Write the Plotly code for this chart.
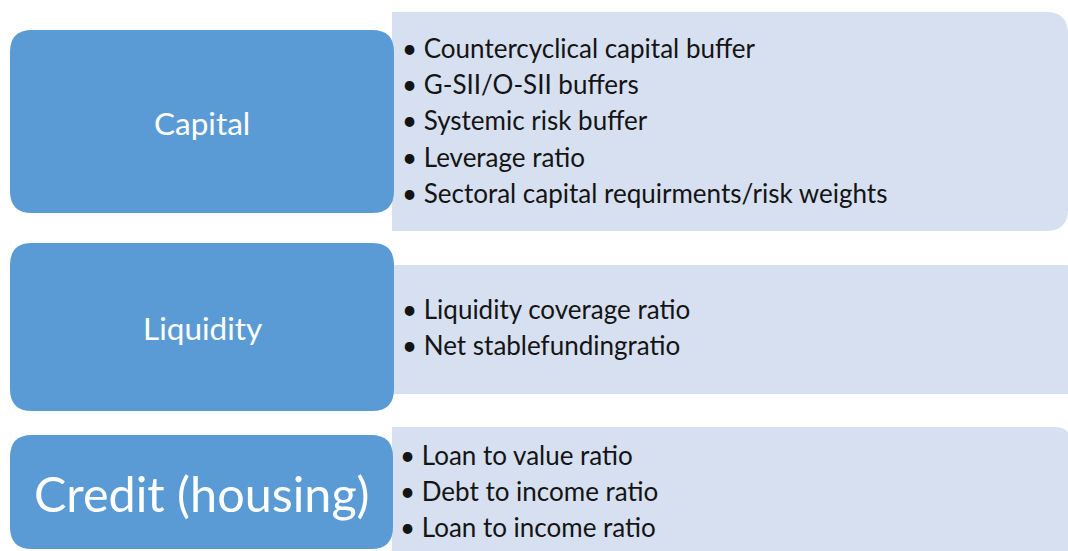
import plotly.graph_objects as go

# ---- content ----
categories = ["Capital", "Liquidity", "Credit (housing)"]
capital_items = [
    "Countercyclical capital buffer",
    "G-SII/O-SII buffers",
    "Systemic risk buffer",
    "Leverage ratio",
    "Sectoral capital requirments/risk weights",
]
liquidity_items = [
    "Liquidity coverage ratio",
    "Net stablefundingratio",
]
credit_items = [
    "Loan to value ratio",
    "Debt to income ratio",
    "Loan to income ratio",
]
items = [capital_items, liquidity_items, credit_items]

# ---- layout (pixel geometry in screen coordinates) ----
W, H = 1068, 551
BLUE = "#5B9BD5"
LIGHT = "#D6E0F0"
FONT = "Lato"

blue_boxes = [(10, 30, 394, 213), (10, 243, 394, 411), (10, 435, 393, 549)]
light_boxes = [(392, 12, 1068, 231), (392, 265, 1072, 394), (392, 427, 1072, 575)]
light_radius = [22, 6, 18]
label_sizes = [31.5, 31.5, 48.5]
item_first_y = [48, 309, 455]
item_x = [400, 400, 398]
line_gap = 36.2
item_size = 26


def rrect(x0, y0, x1, y1, rtl, rtr, rbr, rbl):
    return (
        f"M {x0+rtl},{y0} L {x1-rtr},{y0} Q {x1},{y0} {x1},{y0+rtr} "
        f"L {x1},{y1-rbr} Q {x1},{y1} {x1-rbr},{y1} "
        f"L {x0+rbl},{y1} Q {x0},{y1} {x0},{y1-rbl} "
        f"L {x0},{y0+rtl} Q {x0},{y0} {x0+rtl},{y0} Z"
    )


shapes = []
annotations = []
for i, cat in enumerate(categories):
    lx0, ly0, lx1, ly1 = light_boxes[i]
    r = light_radius[i]
    shapes.append(dict(type="path", xref="x", yref="y",
                       path=rrect(lx0, ly0, lx1, ly1, 0, r, r, 0),
                       fillcolor=LIGHT, line=dict(width=0), layer="below"))
for i, cat in enumerate(categories):
    bx0, by0, bx1, by1 = blue_boxes[i]
    shapes.append(dict(type="path", xref="x", yref="y",
                       path=rrect(bx0, by0, bx1, by1, 22, 22, 22, 22),
                       fillcolor=BLUE, line=dict(width=0), layer="above"))
    annotations.append(dict(x=(bx0 + bx1) / 2, y=(by0 + by1) / 2 + 1, xref="x", yref="y",
                            text=cat, showarrow=False, xanchor="center", yanchor="middle",
                            font=dict(family=FONT, size=label_sizes[i], color="white")))
    for j, it in enumerate(items[i]):
        annotations.append(dict(x=item_x[i], y=item_first_y[i] + j * line_gap, xref="x", yref="y",
                                text="\u2022 " + it, showarrow=False, xanchor="left", yanchor="middle",
                                font=dict(family=FONT, size=item_size, color="#141414")))

fig = go.Figure()
fig.update_layout(
    width=W, height=H, margin=dict(l=0, r=0, t=0, b=0),
    paper_bgcolor="white", plot_bgcolor="white",
    xaxis=dict(range=[0, W], visible=False, fixedrange=True),
    yaxis=dict(range=[H, 0], visible=False, fixedrange=True),
    shapes=shapes, annotations=annotations, showlegend=False,
)
fig.write_html("out.html",
               config={"displayModeBar": False, "staticPlot": True},
               post_script="document.body.style.margin='0';document.body.style.overflow='hidden';")
